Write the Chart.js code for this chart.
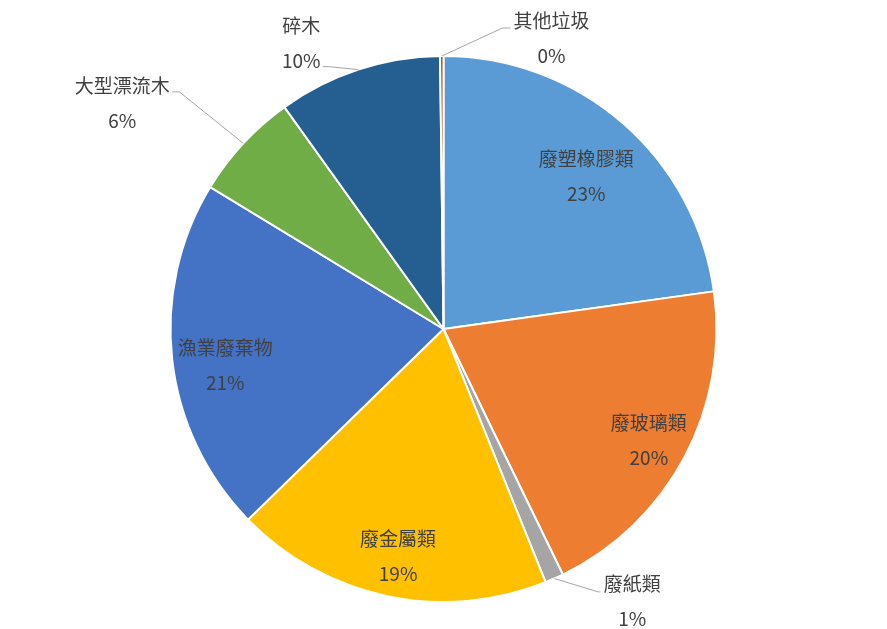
<!DOCTYPE html>
<html>
<head>
<meta charset="utf-8">
<script src="https://cdn.jsdelivr.net/npm/chart.js@4/dist/chart.umd.min.js"></script>
<style>
  html, body { margin: 0; padding: 0; background: #ffffff; }
  #wrap { position: relative; width: 887px; height: 629px; }
</style>
</head>
<body>
<div id="wrap"><canvas id="c"></canvas></div>
<script>
// ---- data ----
const categories = ['廢塑橡膠類', '廢玻璃類', '廢紙類', '廢金屬類', '漁業廢棄物', '大型漂流木', '碎木', '其他垃圾'];
const shares = [22.8, 20.0, 1.1, 18.8, 21.0, 6.4, 9.7, 0.2];
const sliceColors = ['#5B9BD5', '#ED7D31', '#A5A5A5', '#FFC000', '#4472C4', '#70AD47', '#255E91', '#9E480E'];

// ---- label placement (layout only) ----
const labelPlacement = [
  { inside: true, r: 0.765, da: 2.1 },
  { inside: true, r: 0.855, da: 0.3 },
  { inside: false, dx: 78, dy: 22.4, elbow: [-34, -9], end: [-32, -9] },
  { inside: true, r: 0.85, da: -0.6 },
  { inside: true, r: 0.81, da: -2.9 },
  { inside: false, dx: -121, dy: -40, elbow: [57, -11.5], end: [50, -11.5] },
  { inside: false, dx: -57, dy: -26, elbow: [27.5, 23], end: [21.5, 23] },
  { inside: false, dx: 109.7, dy: -17.5, elbow: [-49, -10.5], end: [-41, -10.5] }
];

const sliceLabels = {
  id: 'sliceLabels',
  afterDatasetsDraw(chart, args, opts) {
    const ctx = chart.ctx;
    const meta = chart.getDatasetMeta(0);
    const vals = chart.data.datasets[0].data;
    const names = chart.data.labels;
    const total = vals.reduce((a, b) => a + b, 0);
    const gap = 35;
    ctx.save();
    ctx.font = '19px "Noto Sans CJK TC", "Noto Sans", sans-serif';
    ctx.fillStyle = '#404040';
    ctx.textAlign = 'center';
    ctx.textBaseline = 'middle';
    meta.data.forEach((arc, i) => {
      const p = arc.getProps(['x', 'y', 'startAngle', 'endAngle', 'outerRadius'], true);
      const cfg = opts.place[i];
      let mid = (p.startAngle + p.endAngle) / 2;
      let cx, cy;
      if (cfg.inside) {
        mid += (cfg.da || 0) * Math.PI / 180;
        cx = p.x + Math.cos(mid) * p.outerRadius * cfg.r;
        cy = p.y + Math.sin(mid) * p.outerRadius * cfg.r;
      } else {
        const ox = p.x + Math.cos(mid) * p.outerRadius;
        const oy = p.y + Math.sin(mid) * p.outerRadius;
        cx = ox + cfg.dx;
        cy = oy + cfg.dy;
        ctx.save();
        ctx.strokeStyle = '#A6A6A6';
        ctx.lineWidth = 1;
        ctx.beginPath();
        ctx.moveTo(ox, oy);
        ctx.lineTo(cx + cfg.elbow[0], cy + cfg.elbow[1]);
        ctx.lineTo(cx + cfg.end[0], cy + cfg.end[1]);
        ctx.stroke();
        ctx.restore();
      }
      const pct = Math.round(vals[i] / total * 100) + '%';
      ctx.fillText(names[i], cx, cy - gap / 2);
      ctx.fillText(pct, cx, cy + gap / 2);
    });
    ctx.restore();
  }
};

new Chart(document.getElementById('c'), {
  type: 'pie',
  data: {
    labels: categories,
    datasets: [{
      data: shares,
      backgroundColor: sliceColors,
      borderColor: '#FFFFFF',
      borderWidth: 2,
      hoverOffset: 0,
      offset: 0
    }]
  },
  options: {
    responsive: true,
    maintainAspectRatio: false,
    animation: false,
    layout: { padding: { top: 55, bottom: 26, left: 0, right: 0 } },
    plugins: {
      legend: { display: false },
      tooltip: { enabled: false },
      title: { display: false },
      sliceLabels: { place: labelPlacement }
    }
  },
  plugins: [sliceLabels]
});
</script>
</body>
</html>
